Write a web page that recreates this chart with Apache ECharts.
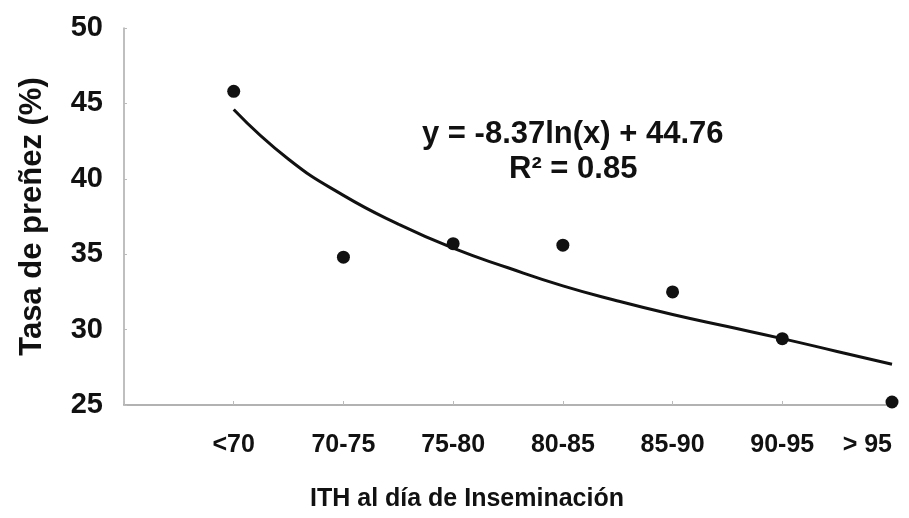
<!DOCTYPE html>
<html>
<head>
<meta charset="utf-8">
<script src="https://cdn.jsdelivr.net/npm/echarts@6/dist/echarts.min.js"></script>
<style>
  html, body { margin: 0; padding: 0; background: #fff; }
  #main { width: 909px; height: 518px; }
</style>
</head>
<body>
<div id="main"></div>
<script>
// categorias ITH y tasa de preñez
var categorias = ['<70', '70-75', '75-80', '80-85', '85-90', '90-95', '> 95'];
var tasa = [45.8, 34.8, 35.7, 35.6, 32.5, 29.4, 25.2];
// linea de tendencia logaritmica
var tendX = [1, 1.5, 2, 2.5, 3, 3.5, 4, 4.5, 5, 5.5, 6, 6.5, 7];
var tendY = [44.6, 41.3, 38.9, 37.0, 35.4, 34.1, 32.9, 31.9, 31.0, 30.2, 29.4, 28.55, 27.7];
var ecuacion = ['y = -8.37ln(x) + 44.76', 'R\u00b2 = 0.85'];
var yTicks = [25, 30, 35, 40, 45, 50];

var font = 'Liberation Sans, Arial, sans-serif';
var myChart = echarts.init(document.getElementById('main'));

var puntos = tasa.map(function(v, i) { return [i + 1, v]; });
var curva = tendX.map(function(x, i) { return [x, tendY[i]]; });

option = {
	animation: false,
	backgroundColor: '#fff',
	grid: { left: 124, right: 17, top: 28, bottom: 113 },
	xAxis: {
		type: 'value',
		min: 0,
		max: 7,
		interval: 1,
		name: 'ITH al día de Inseminación',
		nameLocation: 'middle',
		nameGap: 82,
		nameTextStyle: {
			fontFamily: font, fontSize: 25, fontWeight: 'bold', color: '#111',
			padding: [0, 82, 0, 0]
		},
		axisLine: { lineStyle: { color: '#999', width: 1.5 } },
		axisTick: { inside: true, length: 4, lineStyle: { color: '#bbb' } },
		splitLine: { show: false },
		axisLabel: {
			margin: 28,
			alignMaxLabel: 'right',
			fontFamily: font, fontSize: 25, fontWeight: 'bold', color: '#111',
			formatter: function(v) {
				return categorias[v - 1] || '';
			}
		}
	},
	yAxis: {
		type: 'value',
		min: yTicks[0],
		max: yTicks[yTicks.length - 1],
		interval: 5,
		name: 'Tasa de preñez (%)',
		nameLocation: 'middle',
		nameGap: 76,
		nameTextStyle: { fontFamily: font, fontSize: 31, fontWeight: 'bold', color: '#111' },
		axisLine: { show: true, lineStyle: { color: '#aaa', width: 1.5 } },
		axisTick: { show: true, inside: true, length: 3, lineStyle: { color: '#bbb' } },
		splitLine: { show: false },
		axisLabel: {
			margin: 21,
			fontFamily: font, fontSize: 29, fontWeight: 'bold', color: '#111'
		}
	},
	graphic: [{
		type: 'text',
		left: 422, top: 119,
		style: {
			text: ecuacion[0],
			font: 'bold 31px ' + font,
			fill: '#111'
		}
	}, {
		type: 'text',
		left: 509, top: 154,
		style: {
			text: ecuacion[1],
			font: 'bold 31px ' + font,
			fill: '#111'
		}
	}],
	series: [{
		name: 'Tendencia',
		type: 'line',
		data: curva,
		smooth: true,
		showSymbol: false,
		lineStyle: { color: '#111', width: 3 },
		z: 2
	}, {
		name: 'Tasa',
		type: 'scatter',
		data: puntos,
		symbolSize: 13,
		itemStyle: { color: '#111', opacity: 1 },
		z: 3
	}]
};
myChart.setOption(option);
</script>
</body>
</html>
